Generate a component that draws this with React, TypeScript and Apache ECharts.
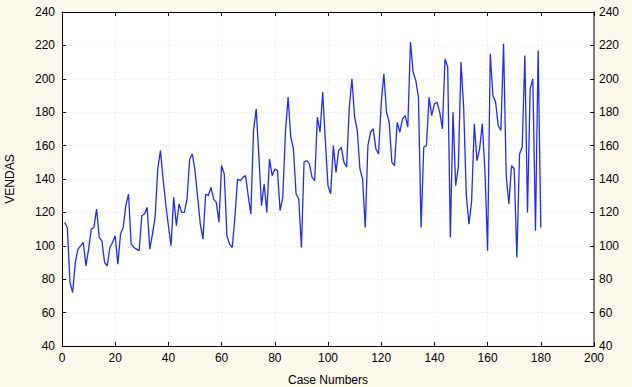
import React, { useEffect, useRef } from "react";
import * as echarts from "echarts";

const caseNumbers: number[] = Array.from({ length: 180 }, (_, k) => k + 1);

const vendas: number[] = [
  114, 111, 78, 72, 90, 98, 100, 102, 88, 98,
  110, 111, 122, 105, 103, 90, 88, 99, 102, 106,
  89, 107, 111, 124, 131, 101, 99, 98, 97, 118,
  119, 123, 98, 107, 117, 146, 157, 140, 125, 112,
  100, 129, 112, 125, 120, 120, 128, 152, 155, 145,
  129, 113, 104, 131, 130, 135, 128, 126, 114, 148,
  143, 106, 101, 99, 117, 140, 139, 141, 142, 130,
  119, 169, 182, 154, 124, 137, 120, 152, 142, 146,
  145, 121, 129, 168, 189, 165, 158, 131, 128, 99,
  150, 151, 149, 141, 139, 177, 168, 192, 163, 136,
  131, 160, 144, 157, 159, 150, 147, 183, 200, 177,
  169, 146, 140, 111, 160, 168, 170, 158, 155, 185,
  203, 180, 174, 150, 148, 174, 168, 176, 178, 171,
  222, 204, 199, 189, 111, 159, 160, 189, 178, 185,
  186, 180, 170, 212, 207, 105, 180, 136, 147, 210,
  183, 130, 113, 127, 173, 151, 158, 173, 145, 97,
  215, 190, 186, 172, 169, 221, 142, 125, 148, 146,
  93, 155, 159, 214, 120, 194, 200, 109, 217, 111,
];

const xTitle = "Case Numbers";
const yTitle = "VENDAS";

export default function App() {
  const ref = useRef<HTMLDivElement>(null);

  useEffect(() => {
    if (!ref.current) return;
    const chart = echarts.init(ref.current, null, { renderer: "svg" });
    const font = "Arial, 'Liberation Sans', sans-serif";
    const gridLine = { show: true, lineStyle: { color: "#e4e4e4", type: [1, 3] as any, width: 1 } };
    const labelStyle = { color: "#000", fontSize: 12, fontFamily: font };
    chart.setOption({
      animation: false,
      backgroundColor: "#fdf8ec",
      grid: {
        left: 62,
        right: 38,
        top: 12,
        bottom: 41,
        show: true,
        backgroundColor: "#ffffff",
        borderWidth: 0,
        outerBoundsMode: "none",
        containLabel: false,
      } as any,
      xAxis: [
        {
          type: "value",
          min: 0,
          max: 200,
          interval: 20,
          position: "bottom",
          name: xTitle,
          nameLocation: "middle",
          nameGap: 28,
          nameTextStyle: { color: "#000", fontSize: 12, fontFamily: font },
          axisLine: { show: true, onZero: false, lineStyle: { color: "#000", width: 1 } },
          axisTick: { show: true, inside: true, length: 4, lineStyle: { color: "#000" } },
          axisLabel: { ...labelStyle, margin: 6 },
          splitLine: gridLine,
        },
        {
          type: "value",
          min: 0,
          max: 200,
          interval: 20,
          position: "top",
          axisLine: { show: true, onZero: false, lineStyle: { color: "#000", width: 1 } },
          axisTick: { show: true, inside: true, length: 4, lineStyle: { color: "#000" } },
          axisLabel: { show: false },
          splitLine: { show: false },
        },
      ],
      yAxis: [
        {
          type: "value",
          min: 40,
          max: 240,
          interval: 20,
          position: "left",
          name: yTitle,
          nameLocation: "middle",
          nameRotate: 90,
          nameGap: 46,
          nameTextStyle: { color: "#000", fontSize: 12, fontFamily: font },
          axisLine: { show: true, onZero: false, lineStyle: { color: "#000", width: 1 } },
          axisTick: { show: true, inside: true, length: 4, lineStyle: { color: "#000" } },
          axisLabel: { ...labelStyle, margin: 7 },
          splitLine: gridLine,
        },
        {
          type: "value",
          min: 40,
          max: 240,
          interval: 20,
          position: "right",
          axisLine: { show: true, onZero: false, lineStyle: { color: "#7a7a7a", width: 2 } },
          axisTick: { show: true, inside: true, length: 4, lineStyle: { color: "#000" } },
          axisLabel: { ...labelStyle, margin: 5 },
          splitLine: { show: false },
        },
      ],
      series: [
        {
          type: "line",
          xAxisIndex: 0,
          yAxisIndex: 0,
          data: caseNumbers.map((c, k) => [c, vendas[k]]),
          showSymbol: false,
          symbol: "none",
          lineStyle: { color: "#1f2bff", width: 1.3 },
        },
      ],
    });
    return () => chart.dispose();
  }, []);

  return (
    <div
      ref={ref}
      style={{ position: "fixed", left: 0, top: 0, width: 632, height: 387 }}
    />
  );
}
